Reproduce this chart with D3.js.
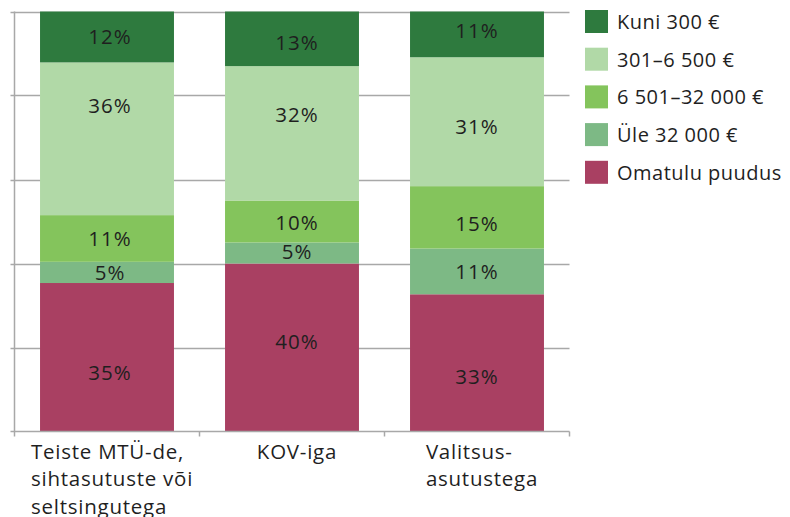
<!DOCTYPE html>
<html>
<head>
<meta charset="utf-8">
<script src="https://cdn.jsdelivr.net/npm/d3@7"></script>
<style>
  html, body { margin: 0; padding: 0; background: #fff; }
  svg { display: block; font-family: "Open Sans", sans-serif; }
</style>
</head>
<body>
<svg id="chart" width="790" height="517"></svg>
<script>
// Categories (each may wrap onto several lines)
const categories = [
  ["Teiste MTÜ-de,", "sihtasutuste või", "seltsingutega"],
  ["KOV-iga"],
  ["Valitsus-", "asutustega"]
];

// Series, stacked bottom to top
const seriesNames = ["Omatulu puudus", "Üle 32 000 €", "6 501–32 000 €", "301–6 500 €", "Kuni 300 €"];
const omatuluPuudus = [35, 40, 33];
const ule32000     = [5, 5, 11];
const r6501_32000  = [11, 10, 15];
const r301_6500    = [36, 32, 31];
const kuni300      = [12, 13, 11];

const seriesColors = ["#a94062", "#7db985", "#84c45c", "#b1d9a7", "#2e7a3e"];

// Legend is listed top to bottom
const legendOrder = [4, 3, 2, 1, 0];

// Hand-placed label shifts (px) from the segment centre, per series then category
const labelShiftY = [
  [15, -7, 13],
  [0, -2, 0],
  [0, 0, 6],
  [-34, -19, 4],
  [-1, 3.5, -4]
];
const labelShiftX = [3, 5, 0];

const seriesValues = [omatuluPuudus, ule32000, r6501_32000, r301_6500, kuni300];
const rows = categories.map((c, i) => {
  const r = { key: i };
  seriesNames.forEach((s, j) => { r[s] = seriesValues[j][i]; });
  return r;
});

const svg = d3.select("#chart");
const plot = { left: 14.5, right: 569.5, top: 11.5, bottom: 431.5 };
const ink = "#1f1f1f";
const gridColor = "#a8a8a8";

const x = d3.scaleBand()
  .domain(categories.map((c, i) => i))
  .range([plot.left, plot.right])
  .paddingInner(0.276)
  .paddingOuter(0.138);

const y = d3.scaleLinear().domain([0, 1]).range([plot.bottom, plot.top]);

const stack = d3.stack().keys(seriesNames).offset(d3.stackOffsetExpand);
const stacked = stack(rows);

// Horizontal gridlines
const gridVals = [0.2, 0.4, 0.6, 0.8, 1.0];
svg.append("g").selectAll("line").data(gridVals).join("line")
  .attr("x1", plot.left - 4).attr("x2", plot.right)
  .attr("y1", d => Math.round(y(d)) + 0.5).attr("y2", d => Math.round(y(d)) + 0.5)
  .attr("stroke", gridColor).attr("stroke-width", 1.5);

// Vertical axis line
svg.append("line")
  .attr("x1", plot.left).attr("x2", plot.left)
  .attr("y1", plot.top).attr("y2", plot.bottom)
  .attr("stroke", gridColor).attr("stroke-width", 1.5);

// Bars
const layers = svg.append("g").selectAll("g").data(stacked).join("g")
  .attr("fill", (d, i) => seriesColors[i]);

layers.selectAll("rect").data(d => d).join("rect")
  .attr("x", (d, i) => x(i))
  .attr("width", x.bandwidth())
  .attr("y", d => y(d[1]))
  .attr("height", d => y(d[0]) - y(d[1]));

// Value labels in each segment
const labelG = svg.append("g");
stacked.forEach((layer, si) => {
  layer.forEach((d, i) => {
    labelG.append("text")
      .attr("x", x(i) + x.bandwidth() / 2 + labelShiftX[i])
      .attr("y", (y(d[0]) + y(d[1])) / 2 + labelShiftY[si][i])
      .attr("text-anchor", "middle")
      .attr("dominant-baseline", "central")
      .attr("font-size", 20.5)
      .attr("letter-spacing", 1)
      .attr("fill", ink)
      .text(seriesValues[si][i] + "%");
  });
});

// Bottom axis with ticks between categories
svg.append("line")
  .attr("x1", plot.left - 4).attr("x2", plot.right)
  .attr("y1", plot.bottom).attr("y2", plot.bottom)
  .attr("stroke", gridColor).attr("stroke-width", 1.5);
const tickXs = [plot.left].concat(categories.map((c, i) => x(i) + x.bandwidth() / 2 + x.step() / 2));
svg.append("g").selectAll("line").data(tickXs).join("line")
  .attr("x1", d => d).attr("x2", d => d)
  .attr("y1", plot.bottom).attr("y2", plot.bottom + 5)
  .attr("stroke", gridColor).attr("stroke-width", 1.5);

// Category labels: lines left-aligned, block centred under the bar
categories.forEach((lines, i) => {
  const g = svg.append("g");
  const texts = lines.map((t, k) => g.append("text")
    .attr("y", 458.5 + k * 27.5)
    .attr("font-size", 20.5)
    .attr("letter-spacing", 0.75)
    .attr("fill", ink)
    .text(t));
  const w = d3.max(texts, t => t.node().getComputedTextLength());
  const cx = x(i) + x.bandwidth() / 2 + 5;
  texts.forEach(t => t.attr("x", Math.max(cx - w / 2, 31)));
});

// Legend
const legend = svg.append("g");
legendOrder.forEach((si, k) => {
  const ly = 21.5 + k * 37.7;
  legend.append("rect")
    .attr("x", 585).attr("y", ly - 11.5)
    .attr("width", 23).attr("height", 23)
    .attr("fill", seriesColors[si]);
  legend.append("text")
    .attr("x", 617).attr("y", ly)
    .attr("dominant-baseline", "central")
    .attr("font-size", 20)
    .attr("letter-spacing", 0.5)
    .attr("fill", ink)
    .text(seriesNames[si]);
});
</script>
</body>
</html>
